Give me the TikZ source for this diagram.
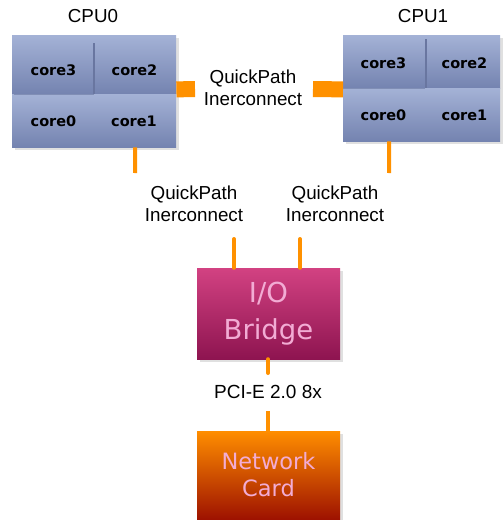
\documentclass[tikz,border=0pt]{standalone}
\usepackage{fontspec}
\setmainfont{DejaVu Sans}
\newfontfamily\labfont{Liberation Sans}
\definecolor{coretop}{RGB}{164,178,214}
\definecolor{corebot}{RGB}{116,131,176}
\definecolor{coresep}{RGB}{105,118,160}
\definecolor{brtop}{RGB}{210,66,130}
\definecolor{brbot}{RGB}{142,20,80}
\definecolor{nettop}{RGB}{255,142,0}
\definecolor{netbot}{RGB}{158,18,0}
\definecolor{wire}{RGB}{255,145,0}
\definecolor{pinktxt}{RGB}{242,172,212}
\begin{document}
\begin{tikzpicture}[x=1pt,y=-1pt,
  cell/.style={rectangle, inner sep=0pt, anchor=north west, top color=coretop, bottom color=corebot},
  corelbl/.style={font=\fontsize{14.5}{16}\bfseries\selectfont, text=black, inner sep=0pt},
  title/.style={font=\labfont\fontsize{18.8}{20}\selectfont, inner sep=0pt},
  qpi/.style={font=\labfont\fontsize{18.8}{22}\selectfont, align=center, inner sep=0pt},
  bar/.style={draw=wire, line width=16pt},
  wireline/.style={draw=wire, line width=4pt, line cap=round},
]
\useasboundingbox (0,0) rectangle (503,520);
% shadows
\fill[black, opacity=0.12] (15,38) rectangle (179,150);
\fill[black, opacity=0.12] (346,38) rectangle (503,144);
\fill[black, opacity=0.12] (200,271) rectangle (343,362);
\fill[black, opacity=0.12] (200,434) rectangle (343,520);
% CPU0
\node[title] (cpu0) at (93,16) {CPU0};
\node[cell, minimum width=82pt, minimum height=59pt] (c0c3) at (12,35) {};
\node[cell, minimum width=82pt, minimum height=59pt] (c0c2) at (94,35) {};
\node[cell, minimum width=85pt, minimum height=53pt] (c0c0) at (12,94) {};
\node[cell, minimum width=79pt, minimum height=53pt] (c0c1) at (97,94) {};
\draw[coresep, line width=1.5pt] (c0c2.north west) ++(0,8) -- (c0c2.south west);
\draw[coresep, opacity=0.6, line width=1.5pt] ([xshift=2pt]c0c3.south west) -- (c0c3.south east);
\node[corelbl] (l0c3) at (53.5,70) {core3};
\node[corelbl] (l0c2) at (134.5,70) {core2};
\node[corelbl] (l0c0) at (53.5,121) {core0};
\node[corelbl] (l0c1) at (134,121) {core1};
% CPU1
\node[title] (cpu1) at (423,16) {CPU1};
\node[cell, minimum width=83pt, minimum height=53pt] (c1c3) at (343,35) {};
\node[cell, minimum width=74pt, minimum height=53pt] (c1c2) at (426,35) {};
\node[cell, minimum width=83pt, minimum height=53pt] (c1c0) at (343,88) {};
\node[cell, minimum width=74pt, minimum height=53pt] (c1c1) at (426,88) {};
\draw[coresep, line width=1.5pt] (c1c2.north west) ++(0,4) -- (c1c2.south west);
\draw[coresep, opacity=0.6, line width=1.5pt] (c1c3.south west) -- ([xshift=-1pt]c1c3.south east);
\node[corelbl] (l1c3) at (383.5,63) {core3};
\node[corelbl] (l1c2) at (464.5,63) {core2};
\node[corelbl] (l1c0) at (383.5,115) {core0};
\node[corelbl] (l1c1) at (464.5,115) {core1};
% QPI between CPUs
\node[qpi] (qpimid) at (253,88) {QuickPath\\Inerconnect};
\coordinate (ql) at (195,89);
\coordinate (qr) at (313,89);
\draw[bar] ([yshift=5pt]c0c2.south east) -- (ql);
\draw[bar] (qr) -- ([yshift=-1pt]c1c3.south west);
% down wires
\coordinate (d0) at (135,173);
\coordinate (d1) at (389,173);
\draw[draw=wire, line width=4pt] ([xshift=-1.5pt]c0c1.south) -- (d0);
\draw[draw=wire, line width=4pt] ([xshift=4.5pt]c1c0.south) -- (d1);
\node[qpi] (qpil) at (194,204) {QuickPath\\Inerconnect};
\node[qpi] (qpir) at (335,204) {QuickPath\\Inerconnect};
% IO bridge
\node[rectangle, inner sep=0pt, minimum width=143pt, minimum height=91pt, top color=brtop, bottom color=brbot,
      text=pinktxt, font=\fontsize{27.5}{37}\selectfont, align=center] (bridge) at (268.5,313.5) {\raisebox{-2pt}{I/O}\\\raisebox{-2pt}{Bridge}};
\coordinate (b1) at (234,239);
\coordinate (b2) at (300,239);
\draw[wireline] (b1) -- ([xshift=-34.5pt]bridge.north);
\draw[wireline] (b2) -- ([xshift=31.5pt]bridge.north);
% PCI
\node[font=\labfont\fontsize{19}{20}\selectfont, inner sep=0pt] (pci) at (268,392) {PCI-E 2.0 8x};
\node[rectangle, inner sep=0pt, minimum width=143pt, minimum height=88pt, top color=nettop, bottom color=netbot,
      text=pinktxt, font=\fontsize{22.5}{27}\selectfont, align=center] (net) at (268.5,475) {\raisebox{-2pt}{Network}\\\raisebox{-2pt}{Card}};
\coordinate (p1) at (268,373);
\coordinate (p2) at (268,411);
\draw[wireline] ([xshift=-0.5pt]bridge.south) -- (p1);
\draw[draw=wire, line width=4pt] (p2) -- ([xshift=-0.5pt]net.north);
\end{tikzpicture}
\end{document}
